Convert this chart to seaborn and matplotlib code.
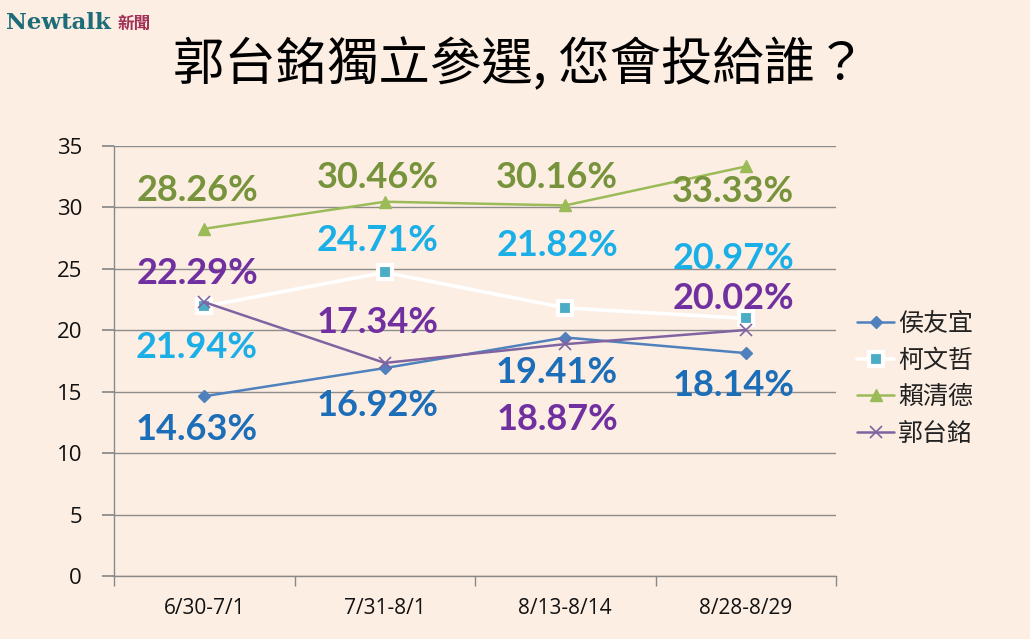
import numpy as np
import pandas as pd
import matplotlib
matplotlib.use("Agg")
import matplotlib.pyplot as plt
import seaborn as sns

# データ
periods = ["6/30-7/1", "7/31-8/1", "8/13-8/14", "8/28-8/29"]
candidates = ["侯友宜", "柯文哲", "賴清德", "郭台銘"]
hou = [14.63, 16.92, 19.41, 18.14]
ko = [21.94, 24.71, 21.82, 20.97]
lai = [28.26, 30.46, 30.16, 33.33]
gou = [22.29, 17.34, 18.87, 20.02]
values = {"侯友宜": hou, "柯文哲": ko, "賴清德": lai, "郭台銘": gou}

# ラベル位置 (データ座標)
label_y = {
    "侯友宜": [11.9, 13.9, 16.6, 15.5],
    "柯文哲": [18.6, 27.3, 26.9, 25.8],
    "賴清德": [31.4, 32.4, 32.4, 31.3],
    "郭台銘": [24.6, 20.6, 12.7, 22.6],
}
label_dx = [-0.04, -0.04, -0.045, -0.07]

bg = "#FDEEE3"
line_col = {"侯友宜": "#4F81BD", "柯文哲": "#FFFFFF", "賴清德": "#9BBB59", "郭台銘": "#8064A2"}
text_col = {"侯友宜": "#1C6EB8", "柯文哲": "#1BAFE8", "賴清德": "#77933C", "郭台銘": "#7030A0"}
mk = {"侯友宜": "D", "柯文哲": "s", "賴清德": "^", "郭台銘": "x"}
mfc = {"侯友宜": "#4F81BD", "柯文哲": "#4BACC6", "賴清德": "#9BBB59", "郭台銘": "#8064A2"}
mec = {"侯友宜": "#4F81BD", "柯文哲": "#FFFFFF", "賴清德": "#9BBB59", "郭台銘": "#8064A2"}
msz = {"侯友宜": 6, "柯文哲": 10, "賴清德": 8, "郭台銘": 8}
mew = {"侯友宜": 1, "柯文哲": 3, "賴清德": 1, "郭台銘": 1.2}

sns.set_theme(style="white")
plt.rcParams["font.family"] = ["Noto Sans CJK TC", "DejaVu Sans"]

fig = plt.figure(figsize=(10.3, 6.39), dpi=100, facecolor=bg)
ax = fig.add_axes([0.1107, 0.0986, 0.701, 0.673])
ax.set_facecolor(bg)

xs = np.arange(len(periods))
for c in candidates:
    sns.lineplot(x=xs, y=values[c], ax=ax, color=line_col[c], lw=2.6 if c == "柯文哲" else 1.8,
                 marker=mk[c], markersize=msz[c], markerfacecolor=mfc[c],
                 markeredgecolor=mec[c], markeredgewidth=mew[c],
                 label=c, zorder=3)
    for i, v in enumerate(values[c]):
        ax.text(i + label_dx[i], label_y[c][i], f"{v:.2f}%", ha="center", va="center",
                fontsize=26, fontweight="bold", family="Lato", color=text_col[c], zorder=5)

ax.set_xlim(-0.5, 3.5)
ax.set_ylim(0, 35)
ax.set_yticks(range(0, 36, 5))
ax.set_xticks(xs)
ax.set_xticklabels(periods, family="Open Sans", fontsize=15, color="#111111")
ax.set_yticklabels([str(t) for t in range(0, 36, 5)], family="Open Sans", fontsize=16, color="#111111")
ax.set_xticks(np.arange(-0.5, 3.6, 1), minor=True)
ax.tick_params(axis="x", which="major", length=0, pad=16)
ax.tick_params(axis="x", which="minor", length=7, color="#888888", direction="out", bottom=True)
ax.tick_params(axis="y", length=9, color="#888888", direction="out", left=True, pad=14)
ax.grid(axis="y", color="#8C8C8C", lw=1)
ax.set_axisbelow(True)
for s in ["top", "right"]:
    ax.spines[s].set_visible(False)
for s in ["left", "bottom"]:
    ax.spines[s].set_color("#888888")
    ax.spines[s].set_linewidth(1)

leg = ax.legend(loc="center left", bbox_to_anchor=(0.81, 0.407), bbox_transform=fig.transFigure,
                frameon=False, fontsize=18, handlelength=1.5, handletextpad=0.15, labelspacing=0.42)
for t in leg.get_texts():
    t.set_color("#222222")

fig.text(0.505, 0.898, "郭台銘獨立參選, 您會投給誰？", ha="center", va="center", fontsize=37, color="black")
fig.text(0.006, 0.964, "Newtalk", ha="left", va="center", fontsize=16.5, fontweight="bold",
         family="DejaVu Serif", color="#1D6C78")
fig.text(0.114, 0.962, "新聞", ha="left", va="center", fontsize=12, fontweight="bold", color="#A23158")

fig.savefig("out.png", dpi=100, facecolor=bg)
